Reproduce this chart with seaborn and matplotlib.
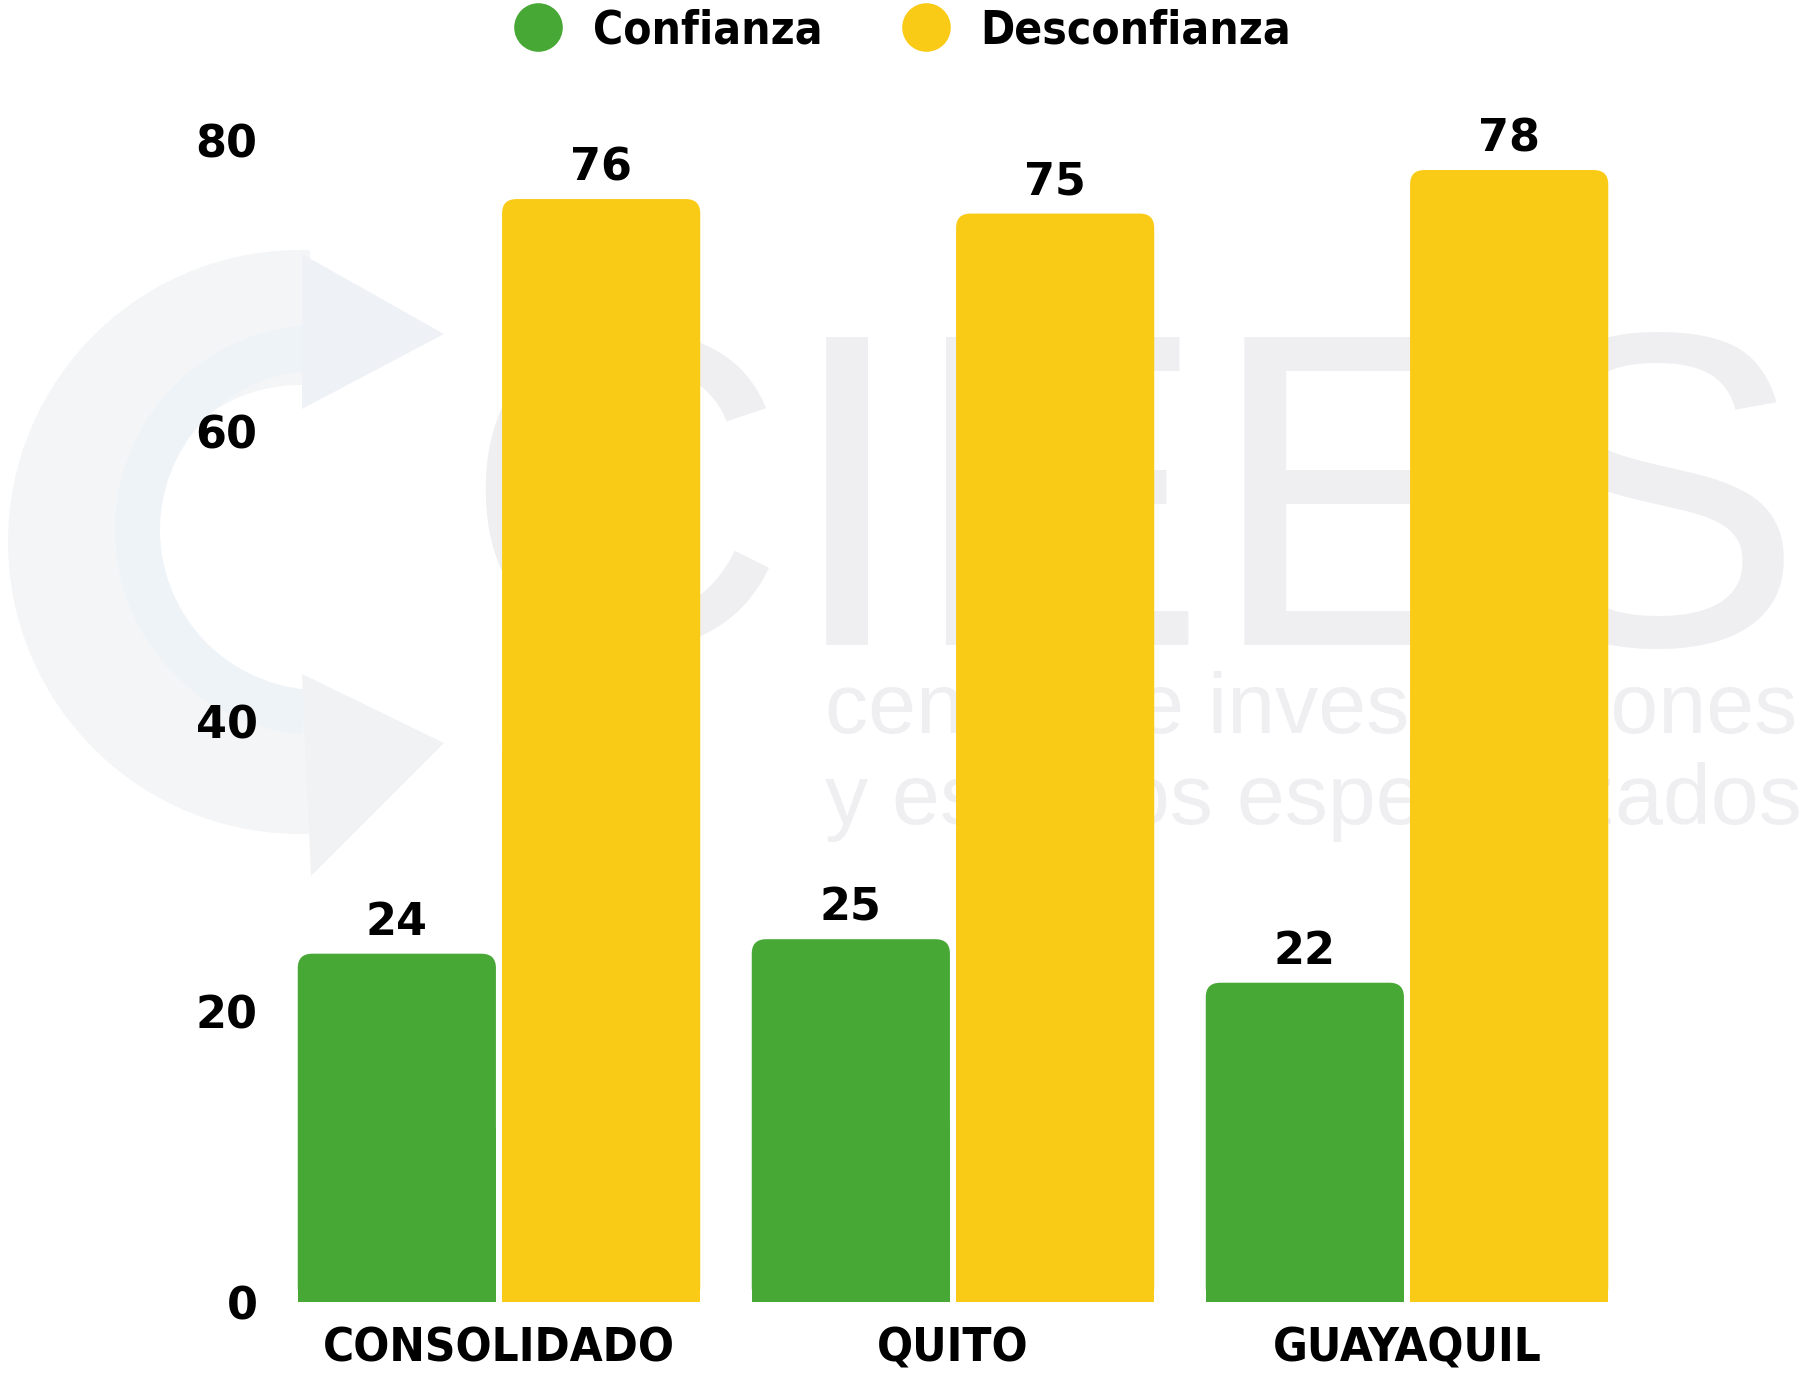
import pandas as pd
import seaborn as sns
import numpy as np
import matplotlib.pyplot as plt
from matplotlib.patches import FancyBboxPatch, Rectangle, Wedge, Polygon
from matplotlib.lines import Line2D

sns.set_style("white")
plt.rcParams["font.family"] = ["DejaVu Sans"]
plt.rcParams["text.color"] = "black"
plt.rcParams["xtick.color"] = "black"
plt.rcParams["ytick.color"] = "black"

#%%
regiones = ["CONSOLIDADO", "QUITO", "GUAYAQUIL"]
series = ["Confianza", "Desconfianza"]
confianza = [24, 25, 22]
desconfianza = [76, 75, 78]
y_ticks = [0, 20, 40, 60, 80]

verde = "#47A836"
amarillo = "#F9CB16"

df = pd.DataFrame({
    "region": regiones * 2,
    "grupo": [series[0]] * 3 + [series[1]] * 3,
    "valor": confianza + desconfianza,
})

#%%
fig = plt.figure(figsize=(18.07, 13.77), dpi=100)

# marca de agua (eje de fondo en pixeles)
bg = fig.add_axes([0, 0, 1, 1], zorder=0)
bg.set_xlim(0, 1807)
bg.set_ylim(1377, 0)
bg.axis("off")
wm = "#EFEFF2"
bg.add_patch(Wedge((300, 542), 292, 88, 272, width=135, fc="#F4F5F6", ec="none"))
bg.add_patch(Wedge((320, 530), 205, 95, 265, width=45, fc="#EEF3F8", ec="none"))
bg.add_patch(Polygon([(302, 254), (444, 334), (302, 409)], fc="#EEF2F7", ec="none"))
bg.add_patch(Polygon([(302, 674), (444, 743), (311, 876)], fc="#F1F2F4", ec="none"))
bg.text(462, 645, "CIEES", fontsize=322, color=wm, family="Liberation Sans",
        ha="left", va="baseline")
bg.text(825, 733, "centro de investigaciones", fontsize=62, color=wm,
        family="Liberation Sans", ha="left", va="baseline")
bg.text(825, 824, "y estudios especializados", fontsize=62, color=wm,
        family="Liberation Sans", ha="left", va="baseline")

ax = fig.add_axes([270 / 1807, 75 / 1377, 1410 / 1807, 1161 / 1377], zorder=1)
ax.patch.set_alpha(0)

sns.barplot(data=df, x="region", y="valor", hue="grupo", order=regiones,
            hue_order=series, palette=[verde, amarillo], saturation=1,
            width=0.9, gap=0.03, legend=False, ax=ax)

# barras con esquinas superiores redondeadas
for p in list(ax.patches):
    x, w, h = p.get_x(), p.get_width(), p.get_height()
    c = p.get_facecolor()
    p.set_visible(False)
    r = FancyBboxPatch((x, 0), w, h, boxstyle="round,pad=0,rounding_size=0.032",
                       mutation_aspect=31, fc=c, ec="none", zorder=3)
    ax.add_patch(r)
    ax.add_patch(Rectangle((x, 0), w, h / 2, fc=c, ec="none", zorder=3))

for cont in ax.containers:
    ax.bar_label(cont, padding=7, fontsize=32, fontweight="bold", zorder=4)

ax.set_ylim(0, 80)
ax.set_xlim((270 - 499) / 454, (1680 - 499) / 454)
ax.set_yticks(y_ticks)
ax.set_xlabel("")
ax.set_ylabel("")
ax.tick_params(axis="y", length=0, pad=9, labelsize=32)
ax.tick_params(axis="x", length=0, pad=18, labelsize=34)
for t in ax.get_yticklabels():
    t.set_fontweight("bold")
for t in ax.get_xticklabels():
    t.set_fontweight("bold")
    t.set_fontstretch("condensed")
sns.despine(left=True, bottom=True)

handles = [Line2D([], [], marker="o", ls="", ms=35, mfc=verde, mec="none"),
           Line2D([], [], marker="o", ls="", ms=35, mfc=amarillo, mec="none")]
fig.legend(handles, series, loc="center", bbox_to_anchor=(0.4935, 1 - 31 / 1377),
           ncol=2, frameon=False,
           prop={"size": 33, "weight": "bold", "stretch": "condensed"},
           handletextpad=0.2, columnspacing=1.25)

plt.savefig("out.png", dpi=100)
